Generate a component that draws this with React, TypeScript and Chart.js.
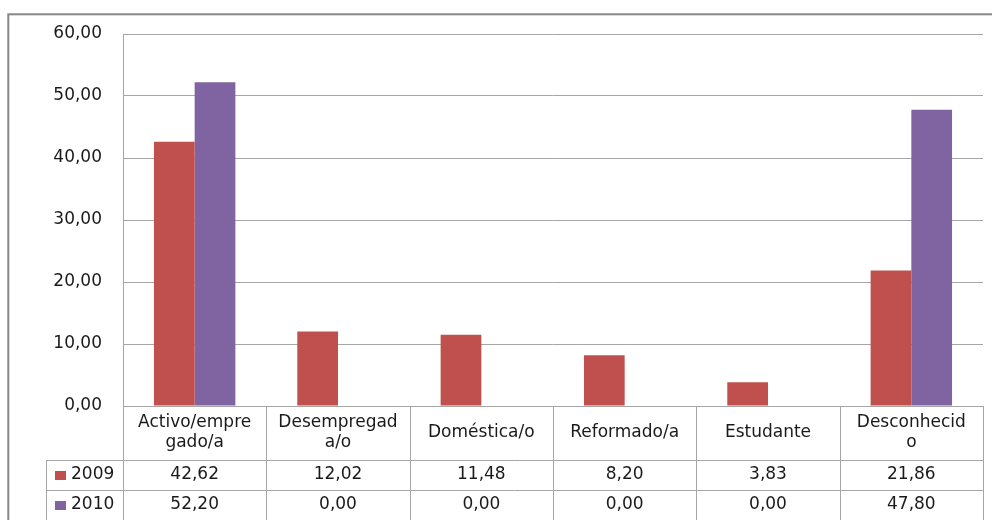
import React, { useEffect, useRef } from "react";
import { Chart, registerables } from "chart.js";

Chart.register(...registerables);

// ---- data ----
const categoryLines: string[][] = [
  ["Activo/empre", "gado/a"],
  ["Desempregad", "a/o"],
  ["Doméstica/o"],
  ["Reformado/a"],
  ["Estudante"],
  ["Desconhecid", "o"],
];
const seriesNames = ["2009", "2010"];
const values2009 = [42.62, 12.02, 11.48, 8.2, 3.83, 21.86];
const values2010 = [52.2, 0, 0, 0, 0, 47.8];
const yMin = 0;
const yMax = 60;
const yStep = 10;

const COLORS = ["#C0504D", "#8064A2"];
const GRID = "#a6a6a6";
const TEXT = "#1a1a1a";
const FONT = '"DejaVu Sans", sans-serif';

const fmt = (v: number) => v.toFixed(2).replace(".", ",");

const tablePlugin = {
  id: "dataTable",
  afterDraw(chart: any) {
    const ctx: CanvasRenderingContext2D = chart.ctx;
    const xs = chart.scales.x;
    const area = chart.chartArea;
    const n = categoryLines.length;
    const edges: number[] = [xs.left];
    for (let i = 1; i < n; i++) {
      edges.push((xs.getPixelForValue(i - 1) + xs.getPixelForValue(i)) / 2);
    }
    edges.push(xs.right);
    const top = area.bottom;
    const headerBottom = top + 54;
    const rowH = 30;
    const rowLines = [headerBottom, headerBottom + rowH, headerBottom + 2 * rowH];
    const legendLeft = 46;

    ctx.save();
    ctx.strokeStyle = GRID;
    ctx.lineWidth = 1;
    ctx.beginPath();
    ctx.moveTo(edges[0], Math.round(top) + 0.5);
    ctx.lineTo(edges[n], Math.round(top) + 0.5);
    for (const r of rowLines) {
      ctx.moveTo(legendLeft, Math.round(r) + 0.5);
      ctx.lineTo(edges[n], Math.round(r) + 0.5);
    }
    for (const e of edges) {
      ctx.moveTo(Math.round(e) + 0.5, top);
      ctx.lineTo(Math.round(e) + 0.5, rowLines[2]);
    }
    ctx.moveTo(legendLeft + 0.5, headerBottom);
    ctx.lineTo(legendLeft + 0.5, rowLines[2]);
    ctx.stroke();

    ctx.fillStyle = TEXT;
    ctx.font = `17px ${FONT}`;
    ctx.textAlign = "center";
    ctx.textBaseline = "middle";
    const headerMid = (top + headerBottom) / 2;
    categoryLines.forEach((lines, i) => {
      const cx = (edges[i] + edges[i + 1]) / 2;
      const lh = 20;
      lines.forEach((ln, j) => {
        const y = headerMid + (j - (lines.length - 1) / 2) * lh;
        ctx.fillText(ln, cx, y);
      });
    });
    const seriesVals = [values2009, values2010];
    seriesVals.forEach((vals, s) => {
      const rTop = headerBottom + s * rowH;
      const cy = rTop + rowH / 2;
      ctx.fillStyle = TEXT;
      ctx.textAlign = "center";
      vals.forEach((v, i) => {
        const cx = (edges[i] + edges[i + 1]) / 2;
        ctx.fillText(fmt(v), cx, cy);
      });
      ctx.fillStyle = COLORS[s];
      ctx.fillRect(55, Math.round(cy) - 4, 11, 9);
      ctx.fillStyle = TEXT;
      ctx.textAlign = "left";
      ctx.fillText(seriesNames[s], 71, cy);
    });

    ctx.strokeStyle = "#878787";
    ctx.lineWidth = 2;
    ctx.strokeRect(8.3, 14.3, 1100, 700);
    ctx.restore();
  },
};

export default function App() {
  const ref = useRef<HTMLCanvasElement | null>(null);
  useEffect(() => {
    document.body.style.margin = "0";
    const canvas = ref.current;
    if (!canvas) return;
    const chart = new Chart(canvas, {
      type: "bar",
      data: {
        labels: categoryLines.map((l) => l.join("")),
        datasets: [
          {
            label: seriesNames[0],
            data: values2009,
            backgroundColor: COLORS[0],
            borderWidth: 0,
            barPercentage: 1,
            categoryPercentage: 0.568,
          },
          {
            label: seriesNames[1],
            data: values2010,
            backgroundColor: COLORS[1],
            borderWidth: 0,
            barPercentage: 1,
            categoryPercentage: 0.568,
          },
        ],
      },
      options: {
        responsive: false,
        devicePixelRatio: 1,
        animation: false,
        layout: { padding: { left: 0, top: 34, right: 9, bottom: 114 } },
        plugins: { legend: { display: false }, tooltip: { enabled: false } },
        scales: {
          x: { display: false },
          y: {
            min: yMin,
            max: yMax,
            ticks: {
              stepSize: yStep,
              callback: (v: any) => fmt(Number(v)),
              font: { family: FONT, size: 17 },
              color: TEXT,
              padding: 21,
            },
            grid: { color: GRID, drawTicks: false },
            border: { display: true, color: GRID },
            afterFit: (scale: any) => {
              scale.width = 123;
            },
          },
        },
      },
      plugins: [tablePlugin],
    });
    return () => chart.destroy();
  }, []);
  return (
    <div style={{ width: 992, height: 520, position: "relative", background: "#fff" }}>
      <canvas ref={ref} width={992} height={520} style={{ display: "block" }} />
    </div>
  );
}
